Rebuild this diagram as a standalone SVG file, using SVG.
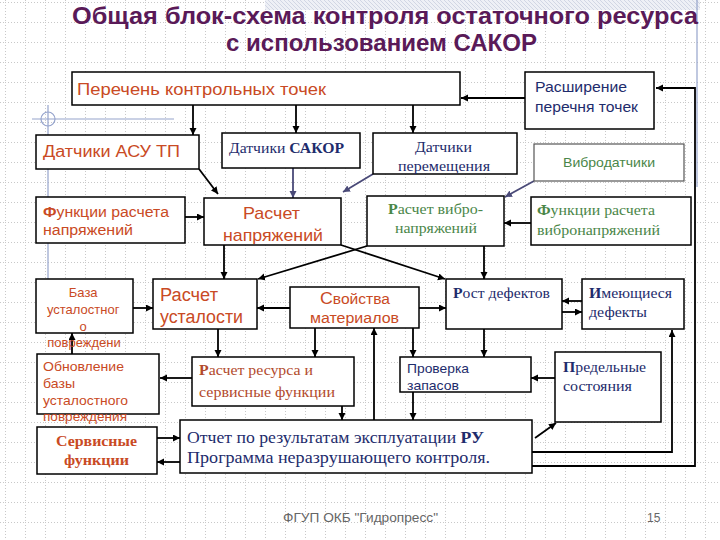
<svg xmlns="http://www.w3.org/2000/svg" width="720" height="540" viewBox="0 0 720 540">
<style>
.box{fill:#fff;stroke:#000;stroke-width:1.5}
.sans{font-family:"Liberation Sans",Arial,sans-serif}
.serif{font-family:"Liberation Serif","Times New Roman",serif}
.red{fill:#C94A24}
.brown{fill:#B24A2C}
.blue{fill:#1E2C6C}
.green{fill:#4A8648}
.ln{fill:none;stroke:#000;stroke-width:1.8}
.lnb{fill:none;stroke:#4A4A78;stroke-width:1.8}
.deco{fill:none;stroke:#95A3CC;stroke-width:1.2}
</style>
<defs>
<pattern id="grid" width="20" height="20" patternUnits="userSpaceOnUse" x="5" y="2">
<path d="M0 0.5H20M0.5 0V20" fill="none" stroke="#c8c8c8" stroke-width="1" stroke-dasharray="1 2"/>
</pattern>
<pattern id="hatch" width="4" height="4" patternUnits="userSpaceOnUse">
<rect width="4" height="4" fill="#eef0f6"/>
<path d="M0 0L4 4" stroke="#c9cfe0" stroke-width="0.8"/>
</pattern>
<marker id="ar" markerWidth="9" markerHeight="9" refX="7" refY="3.5" orient="auto" markerUnits="userSpaceOnUse">
<path d="M0,0L7,3.5L0,7z" fill="#000"/>
</marker>
<marker id="arb" markerWidth="9" markerHeight="9" refX="7" refY="3.5" orient="auto" markerUnits="userSpaceOnUse">
<path d="M0,0L7,3.5L0,7z" fill="#4A4A78"/>
</marker>
</defs>
<rect width="720" height="540" fill="#fff"/>
<rect width="720" height="540" fill="url(#grid)"/>
<rect x="265" y="0" width="435" height="10" fill="url(#hatch)"/>
<line class="deco" x1="697" y1="0" x2="697" y2="187"/>
<line class="deco" x1="32" y1="119" x2="174" y2="119"/>
<line class="deco" x1="48" y1="105" x2="48" y2="279"/>
<circle class="deco" cx="48" cy="119" r="7"/>

<g id="title" class="sans" font-weight="bold" fill="#5A1A58" font-size="24">
<text x="72" y="24" textLength="626" lengthAdjust="spacingAndGlyphs">Общая блок-схема контроля остаточного ресурса</text>
<text x="226" y="51" textLength="311" lengthAdjust="spacingAndGlyphs">с использованием САКОР</text>
</g>

<g id="connectors">
<path class="ln" d="M525 98H461" marker-end="url(#ar)"/>
<path class="ln" d="M532 466H695V88H656" marker-end="url(#ar)"/>
<path class="ln" d="M532 452H672V330" marker-end="url(#ar)"/>
<path class="ln" d="M193 105V135" marker-end="url(#ar)"/>
<path class="ln" d="M296 105V133" marker-end="url(#ar)"/>
<path class="ln" d="M413 105V133" marker-end="url(#ar)"/>
<path class="ln" d="M199 169L218 194" marker-end="url(#ar)"/>
<path class="lnb" d="M293 168V198" marker-end="url(#arb)"/>
<path class="lnb" d="M373 174L343 192" marker-end="url(#arb)"/>
<path class="lnb" d="M534 181L505 197" marker-end="url(#arb)"/>
<path class="ln" d="M185 217H204" marker-end="url(#ar)"/>
<path class="ln" d="M531 223H504" marker-end="url(#ar)"/>
<path class="ln" d="M224 245V279" marker-end="url(#ar)"/>
<path class="ln" d="M341 245L445 279" marker-end="url(#ar)"/>
<path class="ln" d="M367 246L258 279" marker-end="url(#ar)"/>
<path class="ln" d="M484 246V279" marker-end="url(#ar)"/>
<path class="ln" d="M133 308H153" marker-end="url(#ar)"/>
<path class="ln" d="M290 308H257" marker-end="url(#ar)"/>
<path class="ln" d="M419 308H446" marker-end="url(#ar)"/>
<path class="ln" d="M582 301H562" marker-end="url(#ar)"/>
<path class="ln" d="M562 312H582" marker-end="url(#ar)"/>
<path class="ln" d="M218 329V357" marker-end="url(#ar)"/>
<path class="ln" d="M315 328V357" marker-end="url(#ar)"/>
<path class="ln" d="M413 328V357" marker-end="url(#ar)"/>
<path class="ln" d="M484 329V357" marker-end="url(#ar)"/>
<path class="ln" d="M72 354V333" marker-end="url(#ar)"/>
<path class="ln" d="M192 378H160" marker-end="url(#ar)"/>
<path class="ln" d="M555 378H531" marker-end="url(#ar)"/>
<path class="ln" d="M342 406V420" marker-end="url(#ar)"/>
<path class="ln" d="M413 392V420" marker-end="url(#ar)"/>
<path class="ln" d="M374 420V328" marker-end="url(#ar)"/>
<path class="ln" d="M535 438L556 423" marker-end="url(#ar)"/>
<path class="ln" d="M157 438H180" marker-end="url(#ar)"/>
<path class="ln" d="M180 462H157" marker-end="url(#ar)"/>
</g>

<g id="perechen">
<rect class="box" x="72" y="72" width="388" height="33"/>
<text class="sans red" x="77" y="95" font-size="17" textLength="249" lengthAdjust="spacingAndGlyphs">Перечень контрольных точек</text>
</g>
<g id="rasshirenie">
<rect class="box" x="525" y="72" width="129" height="57"/>
<text class="sans blue" x="535" y="92" font-size="14" textLength="92" lengthAdjust="spacingAndGlyphs">Расширение</text>
<text class="sans blue" x="535" y="112" font-size="14" textLength="103" lengthAdjust="spacingAndGlyphs">перечня точек</text>
</g>
<g id="asu">
<rect class="box" x="36" y="135" width="163" height="34"/>
<text class="sans red" x="43" y="157" font-size="16" textLength="137" lengthAdjust="spacingAndGlyphs">Датчики АСУ ТП</text>
</g>
<g id="sakor">
<rect class="box" x="222" y="133" width="138" height="35"/>
<text class="serif blue" x="229" y="153" font-size="15" textLength="115" lengthAdjust="spacingAndGlyphs">Датчики <tspan font-weight="bold">САКОР</tspan></text>
</g>
<g id="peremesch">
<rect class="box" x="373" y="133" width="144" height="41"/>
<text class="serif blue" x="415" y="152" font-size="15" textLength="57" lengthAdjust="spacingAndGlyphs">Датчики</text>
<text class="serif blue" x="398" y="171" font-size="15" textLength="92" lengthAdjust="spacingAndGlyphs">перемещения</text>
</g>
<g id="vibrodatchiki">
<rect x="534" y="144" width="150" height="37" fill="#fff" stroke="#555" stroke-width="1.2"/>
<text class="sans green" x="563" y="167" font-size="13.5" textLength="92" lengthAdjust="spacingAndGlyphs">Вибродатчики</text>
</g>
<g id="funkcii">
<rect class="box" x="36" y="197" width="149" height="46"/>
<text class="sans red" x="43" y="217" font-size="14" textLength="126" lengthAdjust="spacingAndGlyphs"><tspan font-weight="bold">Ф</tspan>ункции расчета</text>
<text class="sans red" x="43" y="235" font-size="14" textLength="90" lengthAdjust="spacingAndGlyphs">напряжений</text>
</g>
<g id="raschet-napr">
<rect class="box" x="204" y="198" width="137" height="47"/>
<text class="sans red" x="243" y="219" font-size="17" textLength="57" lengthAdjust="spacingAndGlyphs">Расчет</text>
<text class="sans red" x="223" y="241" font-size="17" textLength="100" lengthAdjust="spacingAndGlyphs">напряжений</text>
</g>
<g id="raschet-vibro">
<rect class="box" x="367" y="196" width="137" height="50"/>
<text class="serif green" x="388" y="214" font-size="14" textLength="95" lengthAdjust="spacingAndGlyphs"><tspan font-weight="bold">Р</tspan>асчет вибро-</text>
<text class="serif green" x="395" y="233" font-size="14" textLength="82" lengthAdjust="spacingAndGlyphs">напряжений</text>
</g>
<g id="funkcii-vibro">
<rect class="box" x="531" y="197" width="160" height="48"/>
<text class="serif green" x="537" y="215" font-size="14.5" textLength="118" lengthAdjust="spacingAndGlyphs"><tspan font-weight="bold">Ф</tspan>ункции расчета</text>
<text class="serif green" x="537" y="235" font-size="14.5" textLength="123" lengthAdjust="spacingAndGlyphs">вибронапряжений</text>
</g>
<g id="baza">
<rect class="box" x="36" y="279" width="97" height="54"/>
<text class="sans red" font-size="13" text-anchor="middle">
<tspan x="85" y="297">База</tspan>
<tspan x="85" y="314">усталостног</tspan>
<tspan x="85" y="331">о</tspan>
<tspan x="84" y="347">повреждени</tspan>
</text>
</g>
<g id="ustalost">
<rect class="box" x="153" y="279" width="104" height="50"/>
<text class="sans red" x="160" y="301" font-size="18" textLength="58" lengthAdjust="spacingAndGlyphs">Расчет</text>
<text class="sans red" x="160" y="323" font-size="18" textLength="83" lengthAdjust="spacingAndGlyphs">усталости</text>
</g>
<g id="svoistva">
<rect class="box" x="290" y="287" width="129" height="41"/>
<text class="sans red" x="320" y="304" font-size="14" textLength="70" lengthAdjust="spacingAndGlyphs"><tspan font-size="16">С</tspan>войства</text>
<text class="sans red" x="310" y="323" font-size="14" textLength="89" lengthAdjust="spacingAndGlyphs">материалов</text>
</g>
<g id="rost">
<rect class="box" x="446" y="279" width="116" height="50"/>
<text class="serif blue" x="453" y="298" font-size="15" textLength="97" lengthAdjust="spacingAndGlyphs"><tspan font-weight="bold">Р</tspan>ост дефектов</text>
</g>
<g id="imeyuschiesya">
<rect class="box" x="582" y="279" width="102" height="50"/>
<text class="serif blue" x="589" y="298" font-size="15" textLength="83" lengthAdjust="spacingAndGlyphs"><tspan font-weight="bold">И</tspan>меющиеся</text>
<text class="serif blue" x="589" y="317" font-size="15" textLength="58" lengthAdjust="spacingAndGlyphs">дефекты</text>
</g>
<g id="obnovlenie">
<rect class="box" x="37" y="354" width="122" height="60"/>
<text class="sans red" x="43" y="371" font-size="13.5" textLength="81" lengthAdjust="spacingAndGlyphs">Обновление</text>
<text class="sans red" x="43" y="388" font-size="13.5" textLength="32" lengthAdjust="spacingAndGlyphs">базы</text>
<text class="sans red" x="43" y="405" font-size="13.5" textLength="85" lengthAdjust="spacingAndGlyphs">усталостного</text>
<text class="sans red" x="43" y="421" font-size="13.5" textLength="84" lengthAdjust="spacingAndGlyphs">повреждения</text>
</g>
<g id="resurs">
<rect class="box" x="192" y="357" width="162" height="49"/>
<text class="serif brown" x="199" y="375" font-size="15" textLength="114" lengthAdjust="spacingAndGlyphs"><tspan font-weight="bold">Р</tspan>асчет ресурса и</text>
<text class="serif brown" x="199" y="397" font-size="15" textLength="136" lengthAdjust="spacingAndGlyphs">сервисные функции</text>
</g>
<g id="proverka">
<rect class="box" x="400" y="357" width="131" height="35"/>
<text class="sans blue" x="407" y="373" font-size="13" textLength="62" lengthAdjust="spacingAndGlyphs">Проверка</text>
<text class="sans blue" x="407" y="390" font-size="13" textLength="52" lengthAdjust="spacingAndGlyphs">запасов</text>
</g>
<g id="predelnye">
<rect class="box" x="555" y="352" width="106" height="70"/>
<text class="serif blue" x="563" y="372" font-size="15" textLength="83" lengthAdjust="spacingAndGlyphs"><tspan font-weight="bold">П</tspan>редельные</text>
<text class="serif blue" x="563" y="391" font-size="15" textLength="69" lengthAdjust="spacingAndGlyphs">состояния</text>
</g>
<g id="servisnye">
<rect class="box" x="37" y="427" width="120" height="47"/>
<text class="serif red" font-weight="bold" x="56" y="446" font-size="15" textLength="81" lengthAdjust="spacingAndGlyphs">Сервисные</text>
<text class="serif red" font-weight="bold" x="64" y="465" font-size="15" textLength="65" lengthAdjust="spacingAndGlyphs">функции</text>
</g>
<g id="otchet">
<rect class="box" x="180" y="420" width="352" height="53"/>
<text class="serif blue" x="187" y="443" font-size="17.5" textLength="297" lengthAdjust="spacingAndGlyphs">Отчет по результатам эксплуатации <tspan font-weight="bold">РУ</tspan></text>
<text class="serif blue" x="187" y="463" font-size="17.5" textLength="303" lengthAdjust="spacingAndGlyphs">Программа неразрушающего контроля.</text>
</g>
<g id="footer" class="sans" fill="#666" font-size="12">
<text x="283" y="522" textLength="155" lengthAdjust="spacingAndGlyphs">ФГУП ОКБ "Гидропресс"</text>
<text x="647" y="522">15</text>
</g>
</svg>
